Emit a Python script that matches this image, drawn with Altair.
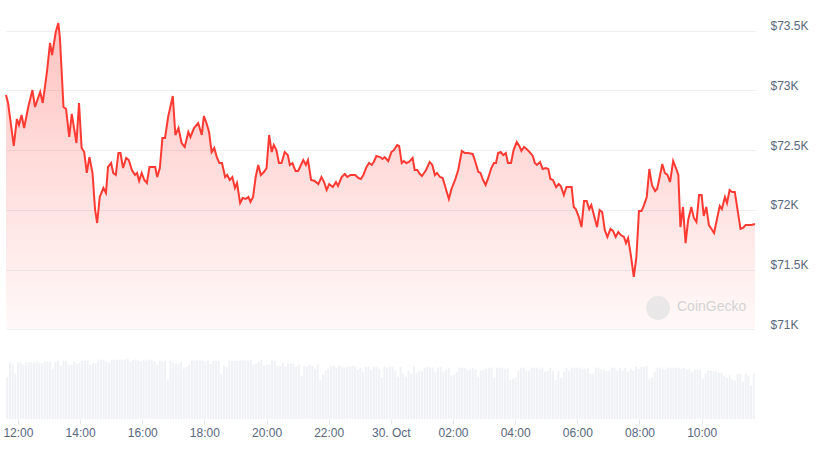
import altair as alt
import pandas as pd

# ---------------- data ----------------
START = pd.Timestamp("2024-10-29 11:37")

# minutes after START
price_minutes = [
    0, 4, 15, 21, 25, 30, 35, 43, 51, 56, 66, 71, 79, 85, 89, 96, 101, 104, 111, 116,
    122, 127, 136, 141, 146, 151, 156, 161, 167, 172, 176, 181, 188, 193, 197, 203, 207, 212, 217, 221,
    226, 232, 237, 243, 249, 253, 257, 262, 267, 272, 277, 283, 288, 292, 297, 302, 307, 313, 322, 327,
    333, 339, 345, 352, 356, 363, 371,
    378, 382, 387, 392, 397, 402, 407, 412, 417, 423, 427, 432, 437, 442, 446, 452, 457, 463, 468, 472,
    477, 482, 487, 492, 498, 503, 508, 513, 517, 522, 527, 532, 538, 544, 548, 553, 559, 564, 574, 579,
    583, 589, 596, 603, 609, 614, 619, 624, 631, 637, 641, 648, 654, 659, 665, 674, 680, 685, 690, 696,
    701, 706, 710, 715, 722, 727, 731, 738, 744, 749, 755, 759,
    764, 768, 773, 778, 785, 789, 794, 799, 803, 811, 818, 823, 828, 832, 838, 843, 847, 855, 860, 867,
    873, 880, 886, 892, 901, 905, 912, 916, 921, 926, 931, 937, 942, 946, 950, 955, 960, 965, 969, 975,
    980, 986, 991, 995, 1000, 1005, 1011, 1017, 1021, 1025, 1031,
    1036, 1042, 1047, 1051, 1056, 1062, 1067, 1071, 1077, 1082, 1092, 1096, 1100, 1106, 1111, 1116, 1121, 1126, 1130, 1135,
    1141, 1146, 1151, 1156, 1161, 1167, 1172, 1177, 1182, 1187, 1193, 1197, 1201, 1206, 1212, 1217, 1222, 1227, 1231, 1237,
    1242, 1247, 1253, 1257, 1262, 1267, 1272, 1277, 1282, 1288, 1294, 1298, 1302, 1307, 1312, 1317, 1323, 1328, 1333, 1338,
    1343, 1347, 1352, 1357, 1362, 1367, 1373, 1378, 1382, 1388, 1392, 1397, 1402, 1407, 1418, 1423, 1428, 1434, 1439, 1446,
]

price_usd = [
    72962, 72895, 72535, 72761, 72710, 72794, 72685, 72861, 73003, 72861, 72987, 72895, 73154, 73397, 73296, 73489, 73564, 73447, 72861, 72844,
    72610, 72803, 72560, 72895, 72518, 72484, 72309, 72442, 72309, 71999, 71890, 72108, 72183, 72141, 72359, 72392, 72309, 72292, 72476, 72476,
    72350, 72434, 72417, 72334, 72292, 72309, 72242, 72309, 72250, 72225, 72359, 72359, 72359, 72275, 72350, 72602, 72602, 72777, 72953, 72627,
    72685, 72560, 72526, 72652, 72610, 72685, 72727,
    72627, 72786, 72727, 72652, 72484, 72518, 72442, 72392, 72392, 72275, 72292, 72250, 72275, 72183, 72225, 72057, 72099, 72091, 72108, 72066,
    72108, 72275, 72376, 72292, 72317, 72350, 72627, 72484, 72543, 72501, 72392, 72392, 72484, 72459, 72376, 72392, 72325, 72325, 72417, 72376,
    72417, 72250, 72242, 72216, 72275, 72233, 72166, 72216, 72191, 72233, 72200, 72275, 72300, 72275, 72292, 72292, 72267, 72258, 72292, 72359,
    72392, 72376, 72401, 72451, 72442, 72426, 72442, 72409, 72484, 72501, 72543, 72535,
    72392, 72409, 72392, 72401, 72434, 72334, 72334, 72300, 72283, 72334, 72401, 72376, 72292, 72309, 72275, 72267, 72208, 72091, 72175, 72250,
    72334, 72493, 72476, 72476, 72468, 72417, 72317, 72309, 72250, 72208, 72267, 72350, 72392, 72392, 72476, 72484, 72459, 72476, 72392, 72392,
    72501, 72568, 72535, 72493, 72526, 72509, 72484, 72451, 72392, 72376, 72401,
    72342, 72350, 72342, 72258, 72250, 72191, 72216, 72200, 72124, 72191, 72191, 72024, 72007, 71940, 71856, 72074, 72074, 72007, 72041, 71957,
    71856, 71999, 71982, 71831, 71773, 71840, 71823, 71773, 71815, 71789, 71773, 71722, 71764, 71630, 71438, 71605, 71990, 71990, 72032, 72108,
    72342, 72208, 72158, 72175, 72275, 72384, 72309, 72292, 72233, 72409, 72342, 72292, 71856, 72024, 71722, 71915, 72024, 71932, 71898, 72124,
    72124, 71949, 72024, 71873, 71840, 71806, 71932, 72032, 72007, 72108, 72057, 72166, 72150, 72150, 71840, 71848, 71873, 71873, 71873, 71882,
]

# 5-minute volume (relative units)
volume = [
    125, 170, 166, 136, 170, 170, 163, 170, 170, 170, 170, 172, 169, 167, 172, 172, 172, 151, 172, 175,
    160, 175, 175, 163, 163, 172, 167, 169, 175, 175, 175, 163, 167, 167, 175, 178, 178, 172, 169, 178,
    178, 178, 178, 178, 178, 181, 172, 178, 178, 175, 172, 178, 175, 178, 178, 172, 163, 175, 172, 175,
    118, 175, 169, 166, 166, 172, 151, 157, 163, 175, 175, 178,
    175, 175, 172, 175, 166, 175, 175, 175, 136, 160, 157, 175, 175, 175, 175, 175, 178, 175, 175, 178,
    163, 166, 172, 178, 160, 163, 163, 178, 175, 160, 160, 169, 157, 166, 166, 166, 157, 163, 130, 160,
    157, 163, 160, 151, 163, 118, 133, 145, 151, 160, 160, 154, 160, 157, 154, 157, 157, 160, 157, 148,
    154, 142, 157, 157, 148, 157, 157, 151, 124, 157, 154, 157,
    157, 145, 127, 157, 136, 127, 145, 136, 157, 139, 145, 145, 154, 157, 154, 154, 142, 154, 157, 142,
    148, 154, 130, 133, 142, 154, 154, 154, 148, 148, 154, 148, 127, 145, 148, 151, 154, 154, 124, 154,
    154, 154, 151, 154, 118, 121, 124, 145, 154, 154, 145, 145, 154, 154, 154, 151, 154, 142, 145, 154,
    145, 118, 145, 124, 142, 154, 145, 154, 154, 154, 154, 151,
    151, 154, 136, 136, 154, 154, 148, 148, 145, 145, 154, 154, 145, 154, 145, 154, 142, 151, 145, 157,
    151, 157, 157, 160, 121, 124, 142, 154, 154, 151, 148, 154, 154, 154, 154, 154, 151, 154, 148, 151,
    142, 148, 148, 148, 121, 136, 145, 145, 142, 142, 139, 139, 130, 124, 133, 118, 115, 136, 136, 112,
    136, 130, 100, 136,
]

y_tick_values = [71000, 71500, 72000, 72500, 73000, 73500]
x_tick_times = [
    (29, 12), (29, 14), (29, 16), (29, 18), (29, 20), (29, 22),
    (30, 0), (30, 2), (30, 4), (30, 6), (30, 8), (30, 10),
]

# ---------------- build tables ----------------
fmt = "%Y-%m-%dT%H:%M:%S"
price_df = pd.DataFrame({
    "time": [(START + pd.Timedelta(minutes=m)).strftime(fmt) for m in price_minutes],
    "price": price_usd,
})
n = len(volume)
vol_df = pd.DataFrame({
    "time": [(START + pd.Timedelta(minutes=2.5 + i * 1441.0 / (n - 1))).strftime(fmt) for i in range(n)],
    "volume": volume,
})

RED = "#ff3a33"
LABEL = "#58667e"
FONT = "Liberation Sans"

x_domain = [
    alt.DateTime(year=2024, month=10, date=29, hours=11, minutes=37),
    alt.DateTime(year=2024, month=10, date=30, hours=11, minutes=43),
]
x_axis = alt.Axis(
    values=[alt.DateTime(year=2024, month=10, date=d, hours=h) for d, h in x_tick_times],
    labelExpr="hours(datum.value) == 0 ? timeFormat(datum.value, '%d. %b') : timeFormat(datum.value, '%H:%M')",
    title=None, grid=False, domain=False, ticks=True, tickSize=5, tickColor="#e3e6ea",
    labelPadding=3, labelColor=LABEL, labelFont=FONT, labelFontSize=12, labelFlush=False,
)
x_enc = alt.X("time:T", scale=alt.Scale(domain=x_domain, padding=0), axis=x_axis)

price_scale = alt.Scale(domain=[70249, 73757], nice=False, zero=False)
y_axis = alt.Axis(
    orient="right", values=y_tick_values, title=None, domain=False, ticks=False,
    grid=True, gridColor="#eceef1", gridWidth=1,
    labelExpr="'$' + format(datum.value / 1000, '.1~f') + 'K'",
    labelPadding=15, labelOffset=-5, labelColor=LABEL, labelFont=FONT, labelFontSize=12,
    labelBaseline="middle",
)

bars = alt.Chart(vol_df).mark_bar(color="#eff1f4", size=2).encode(
    x=x_enc,
    y=alt.Y("volume:Q", scale=alt.Scale(domain=[0, 1257], nice=False), axis=None),
)

area = alt.Chart(price_df).mark_area(
    color=alt.Gradient(
        gradient="linear",
        stops=[
            alt.GradientStop(color="rgba(255,58,51,0.30)", offset=0),
            alt.GradientStop(color="rgba(255,58,51,0.03)", offset=1),
        ],
        x1=1, x2=1, y1=0, y2=1,
    )
).encode(
    x=x_enc,
    y=alt.Y("price:Q", scale=price_scale, axis=y_axis),
    y2=alt.datum(71000),
)

line = alt.Chart(price_df).mark_line(color=RED, strokeWidth=2).encode(
    x=x_enc,
    y=alt.Y("price:Q", scale=price_scale, axis=y_axis),
)

logo = alt.Chart(pd.DataFrame({"k": [0]})).mark_point(
    shape="circle", filled=True, color="#e4e4e4", opacity=0.8, size=570
).encode(x=alt.value(652), y=alt.value(308))

brand = alt.Chart(pd.DataFrame({"k": [0]})).mark_text(
    text="CoinGecko", align="left", baseline="middle", font=FONT, fontSize=14,
    color="#d3d3d3",
).encode(x=alt.value(671), y=alt.value(307))

price_layer = alt.layer(area, line, logo, brand)

chart = alt.layer(bars, price_layer).resolve_scale(y="independent").properties(
    width=749, height=419,
    padding={"left": 6, "top": 0, "right": 63, "bottom": 32},
    autosize=alt.AutoSizeParams(type="none"),
    background="white",
).configure_view(stroke=None)

chart.save("out.html", embed_options={"renderer": "svg", "actions": False})
